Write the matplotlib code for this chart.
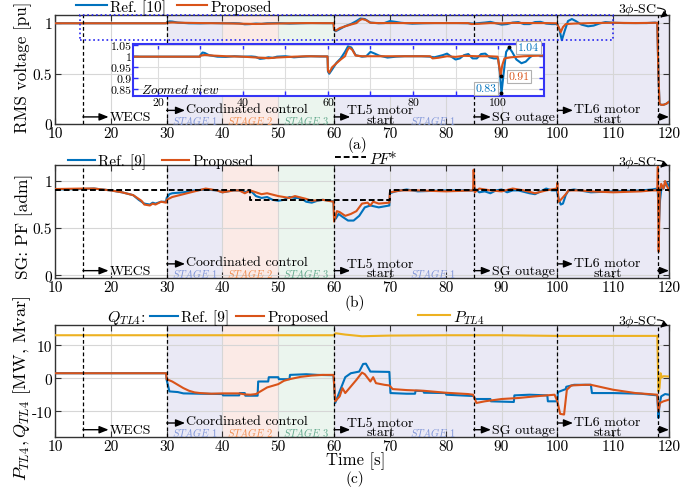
import numpy as np
import matplotlib
matplotlib.use('Agg')
import matplotlib.pyplot as plt
import matplotlib.transforms as mtransforms
from matplotlib.patches import Rectangle

plt.rcParams.update({
    'font.family': ['cmr10', 'DejaVu Serif'],
    'mathtext.fontset': 'cm',
    'axes.unicode_minus': False,
    'axes.formatter.use_mathtext': True,
})

# ---------------- data ----------------
# (a) RMS voltage [pu]
t_v_ref = [10, 29.9, 30, 30.5, 31, 32, 34, 36, 38, 40, 42, 43, 44, 45, 46, 47, 48, 50, 52, 54, 56, 58, 59.9,
           60, 60.3, 61, 62, 63, 64, 64.7, 65.5, 66.5, 68, 69, 70, 71, 72, 74, 76, 78, 80, 82, 84, 85, 86, 87,
           88, 89, 90, 91, 92, 93, 94, 95, 96, 97, 98, 99, 100, 100.4, 100.8, 101.3, 101.9, 102.6, 103.3,
           104.3, 105.5, 106.5, 107.5, 108.6, 110, 112, 114, 116, 117.5, 117.9, 118.1, 118.3, 118.6, 119,
           119.5, 120]
v_ref = [0.998, 0.998, 1.005, 1.017, 1.015, 1.005, 0.998, 0.997, 1.0, 0.998, 0.999, 0.997, 0.988, 0.99,
         0.995, 0.992, 0.998, 1.0, 0.995, 0.998, 1.0, 0.999, 0.999,
         0.93, 0.92, 0.94, 0.97, 0.99, 1.02, 1.045, 1.04, 1.005, 0.998, 1.0, 1.02, 1.012, 1.003, 0.994, 0.998,
         1.0, 1.0, 1.0, 0.998, 0.995, 1.0, 1.005, 1.012, 0.998, 0.985, 0.99, 1.005, 1.01, 0.99, 0.99, 1.01,
         1.012, 0.995, 0.99, 0.99, 0.93, 0.83, 0.92, 1.02, 1.04, 1.02, 0.985, 0.968, 0.975, 0.995, 1.01,
         1.003, 1.0, 1.0, 1.0, 1.005, 1.0, 0.5, 0.2, 0.19, 0.19, 0.2, 0.22]
t_v_pro = [10, 29.9, 30, 31, 33, 36, 40, 44, 46, 48, 50, 52, 55, 59.9, 60, 60.3, 61, 62, 63, 64, 64.5, 65,
           65.7, 66.5, 68, 70, 75, 80, 84, 84.6, 86, 88, 90, 92, 95, 98, 99.9, 100.3, 100.6, 101, 101.5, 103,
           106, 110, 114, 117.9, 118.1, 118.3, 118.6, 119, 119.5, 120]
v_pro = [0.998, 0.998, 1.003, 1.006, 1.003, 1.0, 0.998, 0.993, 0.991, 0.994, 0.996, 0.998, 1.0, 0.999,
         0.935, 0.925, 0.95, 0.968, 0.985, 1.0, 1.025, 1.04, 1.03, 1.003, 1.0, 1.0, 1.0, 1.0, 1.0, 0.99, 0.993,
         1.0, 0.997, 1.002, 1.0, 1.0, 0.998, 0.95, 0.91, 0.96, 0.99, 0.995, 1.0, 1.003, 1.0, 1.003, 0.5, 0.2,
         0.19, 0.19, 0.2, 0.22]

# (b) SG power factor [adm]
t_pf_ref = [10, 15, 17, 20, 22, 24, 25, 26, 27, 27.5, 28, 29, 29.9, 30, 30.5, 31, 33, 35, 37, 39, 40, 42, 43,
            44, 45, 45.5, 46, 47, 48, 49, 50, 51, 52, 53, 54, 55, 56, 57, 58, 59.5, 59.9, 60, 60.3, 60.8, 61.5,
            62.5, 63.5, 64.5, 65.5, 66.5, 68, 69.9, 70, 71, 73, 75, 80, 84.9, 85, 86, 87, 88, 89, 90, 91, 92,
            93, 95, 96, 97, 98, 99, 99.9, 100.2, 100.6, 101, 101.5, 102, 103, 104, 106, 110, 115, 117, 117.9,
            118, 118.2, 118.4, 118.7, 119, 119.5, 120]
pf_ref = [0.91, 0.915, 0.92, 0.9, 0.88, 0.85, 0.8, 0.76, 0.75, 0.77, 0.76, 0.78, 0.78, 0.82, 0.86, 0.87, 0.88,
          0.9, 0.91, 0.9, 0.88, 0.9, 0.9, 0.88, 0.9, 0.87, 0.84, 0.82, 0.83, 0.8, 0.79, 0.8, 0.83, 0.82, 0.82,
          0.78, 0.77, 0.79, 0.8, 0.79, 0.78, 0.62, 0.6, 0.65, 0.62, 0.58, 0.58, 0.63, 0.72, 0.74, 0.72, 0.74,
          0.87, 0.89, 0.91, 0.89, 0.9, 0.9, 0.93, 0.88, 0.89, 0.87, 0.9, 0.91, 0.88, 0.9, 0.9, 0.87, 0.86, 0.89,
          0.92, 0.9, 0.9, 0.82, 0.75, 0.76, 0.85, 0.9, 0.91, 0.9, 0.88, 0.89, 0.9, 0.91, 0.92, 0.88, 0.55, 0.8,
          0.95, 0.92, 0.99, 0.95]
t_pf_pro = [10, 15, 17, 20, 22, 24, 25.5, 26, 27, 27.5, 28, 29, 29.9, 30, 31, 33, 35, 37, 39, 40, 42, 43, 44,
            45, 46, 47, 48, 50, 52, 53, 55, 56, 58, 59.9, 60, 60.5, 61, 62, 63, 64, 65, 66, 66.5, 67, 68, 69.9,
            70, 72, 75, 80, 84.9, 85, 85.2, 86, 88, 90, 92, 94, 96, 98, 99.9, 100, 100.2, 100.6, 101.5, 102,
            104, 106, 110, 115, 117, 117.9, 118, 118.15, 118.35, 118.6, 119, 119.3, 119.6, 120]
pf_pro = [0.915, 0.92, 0.92, 0.9, 0.88, 0.85, 0.79, 0.75, 0.74, 0.76, 0.75, 0.78, 0.77, 0.8, 0.83, 0.86, 0.89,
          0.92, 0.9, 0.88, 0.9, 0.9, 0.87, 0.9, 0.88, 0.86, 0.87, 0.84, 0.82, 0.84, 0.81, 0.79, 0.8, 0.78, 0.57,
          0.68, 0.67, 0.63, 0.65, 0.68, 0.76, 0.77, 0.74, 0.78, 0.76, 0.77, 0.88, 0.9, 0.9, 0.89, 0.9, 1.12,
          0.88, 0.92, 0.9, 0.89, 0.92, 0.9, 0.87, 0.9, 0.92, 0.98, 0.78, 0.8, 0.86, 0.9, 0.9, 0.89, 0.88, 0.89,
          0.9, 0.9, 1.15, 0.25, 0.9, 0.97, 0.92, 1.0, 0.95, 0.9]
t_pf_set = [10, 45, 70, 120]
pf_set = [0.9, 0.8, 0.9, 0.9]

# (c) TL4 active / reactive power [MW, Mvar]
t_p = [10, 30, 59.9, 60.3, 62, 65, 70, 80, 90, 100, 110, 117.9, 118.1, 118.3, 118.5, 118.7, 119, 120]
p_tl4 = [13, 13, 13, 13.6, 13.2, 12.7, 12.9, 13.0, 13.0, 12.8, 12.8, 12.8, -4, -3, 1.5, 0.2, 0.6, 0.5]
t_q_ref = [10, 29.9, 30, 30.5, 32, 33, 36, 40, 40.1, 43, 43.1, 44, 44.1, 46.3, 46.4, 48.2, 48.3, 50, 50.1, 52,
           52.1, 55, 57, 59.9, 60.2, 61, 62, 63, 64.5, 65.2, 65.7, 66.5, 69.9, 70.1, 73, 74.5, 74.6, 76, 76.1,
           80, 80.1, 85, 85.2, 88, 88.1, 92.2, 92.3, 95, 98.2, 98.3, 100, 100.1, 101.5, 101.6, 103, 106, 106.2,
           110, 115, 117.9, 118.1, 118.3, 118.6, 119.3, 120]
q_ref = [1.5, 1.5, -0.5, -4, -4.2, -4.6, -4.7, -4.8, -5.2, -5.2, -4.5, -4.5, -5.3, -5.3, -1, -1, 0.3, 0.3,
         -0.3, -0.3, 1.0, 1.2, 1.0, 0.9, -7.5, -4, 0.3, 1.5, 2, 4.3, 4.4, 2, 1.9, -4.5, -4.7, -4.7, -3.8, -3.9,
         -4.4, -4.5, -5, -5.4, -6.3, -6.3, -7, -7.2, -5.2, -5, -5.2, -7, -7, -4.2, -3.3, -2.6, -2, -2, -4.5,
         -4.5, -4.7, -5.2, -12, -8, -5.5, -4.8, -5]
t_q_pro = [10, 29.9, 30, 31, 32, 33, 34, 35, 36, 38, 40, 43, 44, 45, 46, 47, 48, 50, 51, 52, 54, 56, 58, 59.9,
           60.2, 61, 61.5, 62, 63, 64, 65, 65.5, 66.5, 67, 67.5, 69, 69.9, 70.5, 73, 76, 80, 84, 84.9, 85.5, 87,
           90, 93, 96, 99.5, 100, 100.5, 101.2, 101.7, 102.5, 105, 106, 110, 114, 117.9, 118.1, 118.4, 119, 120]
q_pro = [1.5, 1.5, -0.3, -1, -2, -3, -3.8, -4.3, -4.5, -4.7, -4.6, -4.6, -4.9, -5, -4.8, -3.8, -2.8, -1.8,
         -0.8, -0.3, 0.4, 0.8, 1, 1, -7, -5.5, -3, -4.5, -2.5, -0.5, 1.7, 1.2, -1, 0.3, -1.5, -2, -2.2, -3.3,
         -3.6, -3.8, -4.4, -4.8, -5, -7.5, -7, -6.3, -6, -5.5, -5, -7, -10.8, -11, -3.5, -2.2, -2, -2, -3.5,
         -4.5, -5, -10, -7.5, -7, -6.5]

events = [15, 30, 60, 85, 100, 118]
xticks = [10, 20, 30, 40, 50, 60, 70, 80, 90, 100, 110, 120]

C_REF = '#0072BD'
C_PRO = '#D95319'
C_P = '#EDB120'
C_S1 = '#EAE9F5'
C_S2 = '#FBEAE6'
C_S3 = '#EBF5EE'

W, H = 692, 489
fig = plt.figure(figsize=(W / 100, H / 100), dpi=100)


def rect(l, t, r, b):
    return [l / W, 1 - b / H, (r - l) / W, (b - t) / H]


def decorate(ax, yticks, ylabels, ylim, sc_y):
    ax.set_xlim(10, 120)
    ax.set_ylim(*ylim)
    ax.axvspan(30, 40, color=C_S1, zorder=0, lw=0)
    ax.axvspan(40, 50, color=C_S2, zorder=0, lw=0)
    ax.axvspan(50, 60, color=C_S3, zorder=0, lw=0)
    ax.axvspan(60, 120, color=C_S1, zorder=0, lw=0)
    ax.set_axisbelow(True)
    ax.grid(True, color='#d6d6d6', lw=0.8)
    ax.set_xticks(xticks, [str(v) for v in xticks])
    ax.set_yticks(yticks, ylabels)
    ax.tick_params(direction='in', top=True, right=True, length=4, labelsize=11, pad=2, color='#333333')
    for s in ax.spines.values():
        s.set_color('#333333')
        s.set_linewidth(1.0)
    for xv in events:
        ax.axvline(xv, color='k', ls=(0, (3, 2)), lw=0.9, zorder=4)
    tr = mtransforms.blended_transform_factory(ax.transData, ax.transAxes)
    ap = dict(arrowstyle='-|>,head_length=0.55,head_width=0.22', color='k', lw=1.0, shrinkA=0, shrinkB=0)

    def arrow(x0, x1, y):
        ax.annotate('', xy=(x1, y), xytext=(x0, y), xycoords=tr, textcoords=tr, arrowprops=ap, zorder=5)

    yb = 0.065
    arrow(15, 19.6, yb)
    ax.text(19.8, yb, 'WECS', transform=tr, ha='left', va='center', fontsize=10)
    arrow(30, 33.3, 0.125)
    ax.text(33.5, 0.14, 'Coordinated control', transform=tr, ha='left', va='center', fontsize=10)
    arrow(60, 62.9, yb)
    ax.text(68.3, 0.085, 'TL5 motor\nstart', transform=tr, ha='center', va='center', fontsize=10,
            linespacing=0.75)
    arrow(85, 88.1, yb)
    ax.text(88.3, yb, 'SG outage', transform=tr, ha='left', va='center', fontsize=10)
    arrow(100, 102.8, 0.125)
    ax.text(109.0, 0.09, 'TL6 motor\nstart', transform=tr, ha='center', va='center', fontsize=10,
            linespacing=0.75)
    arrow(118, 120, yb)
    ax.text(35.1, 0.045, r'$\mathit{STAGE\ 1}$', transform=tr, ha='center', va='center', fontsize=7.5,
            color='#7F95D8')
    ax.text(45.0, 0.045, r'$\mathit{STAGE\ 2}$', transform=tr, ha='center', va='center', fontsize=7.5,
            color='#F08C4E')
    ax.text(54.9, 0.045, r'$\mathit{STAGE\ 3}$', transform=tr, ha='center', va='center', fontsize=7.5,
            color='#62A98C')
    ax.text(77.6, 0.045, r'$\mathit{STAGE\ 1}$', transform=tr, ha='center', va='center', fontsize=7.5,
            color='#7F95D8')
    ax.text(114.4, sc_y, r'3$\phi$-SC', transform=tr, ha='center', va='center', fontsize=10)
    ax.annotate('', xy=(118.4, 0.975), xytext=(117.9, sc_y + 0.01), xycoords=tr, textcoords=tr,
                arrowprops=dict(arrowstyle='-|>,head_length=0.4,head_width=0.18', color='k', lw=0.8,
                                shrinkA=0, shrinkB=0, connectionstyle='arc3,rad=-1.3'), zorder=6)
    return tr


# ---------------- panel (a) ----------------
axA = fig.add_axes(rect(55, 16, 669, 125))
decorate(axA, [0, 0.5, 1], ['0', '0.5', '1'], (0, 1.08), 1.055)
lr, = axA.plot(t_v_ref, v_ref, color=C_REF, lw=1.5, zorder=3, label='Ref. [10]')
lp, = axA.plot(t_v_pro, v_pro, color=C_PRO, lw=1.5, zorder=3, label='Proposed')
axA.set_ylabel('RMS voltage [pu]', fontsize=12.3)
axA.yaxis.set_label_coords(-0.037, 0.53)
axA.add_patch(Rectangle((14.5, 0.83), 95.5, 0.248, fill=False, ec='#2424F0', ls=':', lw=1.2, zorder=5,
                        clip_on=False))
axA.legend(handles=[lr, lp], loc='center left', bbox_to_anchor=(0.035, 1.075), ncol=2, frameon=False,
           fontsize=11, borderpad=0, borderaxespad=0, handlelength=2.0, handletextpad=0.2, columnspacing=0.7)

axI = fig.add_axes(rect(133, 45, 544, 97))
axI.set_facecolor('white')
axI.plot(t_v_ref, v_ref, color=C_REF, lw=1.5)
axI.plot(t_v_pro, v_pro, color=C_PRO, lw=1.5)
axI.set_xlim(14.15, 110.8)
axI.set_ylim(0.818, 1.056)
inx = list(range(20, 101, 10))
axI.set_xticks(inx, [str(v) if v % 20 == 0 else '' for v in inx])
axI.set_yticks([0.85, 0.9, 0.95, 1.0, 1.05], ['0.85', '0.9', '0.95', '1', '1.05'])
axI.grid(True, color='#dddddd', lw=0.8)
axI.tick_params(direction='in', top=True, right=True, length=3.5, labelsize=8.5, pad=1.0, color='#2a2aff',
                width=1.0)
for s in axI.spines.values():
    s.set_color('#3535F5')
    s.set_linewidth(1.5)
axI.text(16.0, 0.848, r'$\mathit{Zoomed\ view}$', fontsize=9.5, ha='left', va='center')
axI.plot([102.6, 100.8, 100.6], [1.04, 0.83, 0.91], 'o', color='k', ms=1.8, zorder=6)
bbox = dict(boxstyle='square,pad=0.15', fc='white', ec='#b0b0b0', lw=0.8)
axI.text(104.6, 1.042, '1.04', color=C_REF, fontsize=8.5, ha='left', va='center', bbox=bbox)
axI.text(99.6, 0.853, '0.83', color=C_REF, fontsize=8.5, ha='right', va='center', bbox=bbox)
axI.text(102.4, 0.907, '0.91', color=C_PRO, fontsize=8.5, ha='left', va='center', bbox=bbox)
fig.text(357 / W, 1 - 145 / H, '(a)', ha='center', va='center', fontsize=11)

# ---------------- panel (b) ----------------
axB = fig.add_axes(rect(55, 166, 669, 279))
decorate(axB, [0, 0.5, 1], ['0', '0.5', '1'], (-0.03, 1.17), 1.03)
br, = axB.plot(t_pf_ref, pf_ref, color=C_REF, lw=1.5, zorder=3, label='Ref. [9]')
bp, = axB.plot(t_pf_pro, pf_pro, color=C_PRO, lw=1.5, zorder=3, label='Proposed')
bs, = axB.plot(t_pf_set, pf_set, color='k', lw=1.4, ls=(0, (3, 1.5)), drawstyle='steps-post', zorder=3.5,
               label=r'$PF$*')
axB.set_ylabel('SG: PF [adm]', fontsize=12.5)
axB.yaxis.set_label_coords(-0.036, 0.47)
legB = axB.legend(handles=[br, bp], loc='center left', bbox_to_anchor=(0.021, 1.035), ncol=2, frameon=False,
                  fontsize=11, borderpad=0, borderaxespad=0, handlelength=1.8, handletextpad=0.2,
                  columnspacing=1.0)
axB.add_artist(legB)
axB.legend(handles=[bs], loc='center left', bbox_to_anchor=(0.456, 1.07), frameon=False, fontsize=11,
           borderpad=0, borderaxespad=0, handlelength=2.0, handletextpad=0.2)
fig.text(355 / W, 1 - 303 / H, '(b)', ha='center', va='center', fontsize=11)

# ---------------- panel (c) ----------------
axC = fig.add_axes(rect(55, 326, 669, 438))
decorate(axC, [-10, 0, 10], ['-10', '0', '10'], (-17.8, 16.1), 1.036)
cp, = axC.plot(t_p, p_tl4, color=C_P, lw=1.5, zorder=3, label=r'$P_{TL4}$')
cr, = axC.plot(t_q_ref, q_ref, color=C_REF, lw=1.5, zorder=3, label='Ref. [9]')
cq, = axC.plot(t_q_pro, q_pro, color=C_PRO, lw=1.5, zorder=3, label='Proposed')
axC.set_ylabel(r'$P_{TL4}, Q_{TL4}$ [MW, Mvar]', fontsize=13)
axC.yaxis.set_label_coords(-0.036, 0.44)
axC.text(0.085, 1.072, r'$Q_{TL4}$:', transform=axC.transAxes, ha='left', va='center', fontsize=11.5)
legC = axC.legend(handles=[cr, cq], loc='center left', bbox_to_anchor=(0.155, 1.072), ncol=2, frameon=False,
                  fontsize=11, borderpad=0, borderaxespad=0, handlelength=1.8, handletextpad=0.2,
                  columnspacing=0.5)
axC.add_artist(legC)
axC.legend(handles=[cp], loc='center left', bbox_to_anchor=(0.591, 1.072), frameon=False, fontsize=11.5,
           borderpad=0, borderaxespad=0, handlelength=2.0, handletextpad=0.2)
fig.text(356 / W, 1 - 461 / H, 'Time [s]', ha='center', va='center', fontsize=12)
fig.text(355 / W, 1 - 479 / H, '(c)', ha='center', va='center', fontsize=11)

fig.savefig('out.png', dpi=100)
